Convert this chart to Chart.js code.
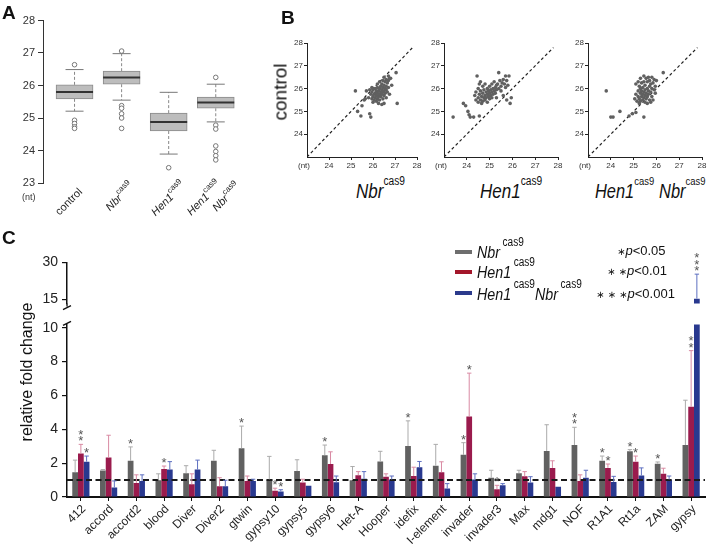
<!DOCTYPE html>
<html>
<head>
<meta charset="utf-8">
<title>Small RNA length and TE expression</title>
<script src="https://cdn.jsdelivr.net/npm/chart.js@4.4.1/dist/chart.umd.min.js"></script>
<style>
  body { margin: 0; background: #fff; }
  #fig { position: relative; width: 709px; height: 549px; overflow: hidden;
         font-family: "Liberation Sans", Arial, sans-serif; color: #111; }
  #fig canvas, #fig .t, #fig .sw { position: absolute; }
  .t { white-space: nowrap; line-height: 1; }
  .letter { font-weight: bold; font-size: 19px; }
  .gt { display: inline-block; transform-origin: 0 50%; }
  .up { font-style: normal; position: relative; }
  .sw { width: 17px; height: 4px; }
  .st { font-family: "DejaVu Sans", sans-serif; font-size: 10px; }
</style>
</head>
<body>
<div id="fig">
  <canvas id="boxA" width="265" height="245" style="left:0;top:0"></canvas>
  <canvas id="sc1" width="137" height="138" style="left:287px;top:33px"></canvas>
  <canvas id="sc2" width="141" height="138" style="left:424px;top:33px"></canvas>
  <canvas id="sc3" width="141" height="138" style="left:568px;top:33px"></canvas>
  <canvas id="upperC" width="709" height="66" style="left:0;top:250px"></canvas>
  <canvas id="lowerC" width="709" height="237" style="left:0;top:312px"></canvas>

  <div class="t letter" style="left:2px;top:3px">A</div>
  <div class="t letter" style="left:281px;top:8px">B</div>
  <div class="t letter" style="left:2px;top:228px">C</div>
  <div class="t" style="left:22px;top:193px;font-size:9px;color:#333">(nt)</div>

  <!-- panel B titles -->
  <div class="t" style="left:280px;top:92px;font-size:19px;transform:translate(-50%,-50%) rotate(-90deg)">control</div>
  <div class="t" style="left:356px;top:181px;font-size:20px"><span class="gt" style="transform:scaleX(.85)"><i>Nbr</i><span class="up" style="font-size:12px;top:-13px">cas9</span></span></div>
  <div class="t" style="left:480px;top:181px;font-size:20px"><span class="gt" style="transform:scaleX(.85)"><i>Hen1</i><span class="up" style="font-size:12px;top:-13px">cas9</span></span></div>
  <div class="t" style="left:595px;top:181px;font-size:20px"><span class="gt" style="transform:scaleX(.82)"><i>Hen1</i><span class="up" style="font-size:11.5px;top:-13px">cas9</span><i style="margin-left:6px">Nbr</i><span class="up" style="font-size:11.5px;top:-13px">cas9</span></span></div>

  <!-- panel C axis title and legend -->
  <div class="t" style="left:27px;top:372px;font-size:16px;transform:translate(-50%,-50%) rotate(-90deg)">relative fold change</div>
  <div class="sw" style="left:455px;top:250px;background:#6e6e6e"></div>
  <div class="sw" style="left:455px;top:270px;background:#a3162a"></div>
  <div class="sw" style="left:455px;top:291px;background:#2b3a8c"></div>
  <div class="t" style="left:477px;top:244px;font-size:17px"><span class="gt" style="transform:scaleX(.84)"><i>Nbr</i><span class="up" style="font-size:12px;top:-12px;margin-left:3px">cas9</span></span></div>
  <div class="t" style="left:477px;top:264px;font-size:17px"><span class="gt" style="transform:scaleX(.84)"><i>Hen1</i><span class="up" style="font-size:12px;top:-12px;margin-left:3px">cas9</span></span></div>
  <div class="t" style="left:477px;top:286px;font-size:17px"><span class="gt" style="transform:scaleX(.84)"><i>Hen1</i><span class="up" style="font-size:12px;top:-12px;margin-left:3px">cas9</span><i>Nbr</i><span class="up" style="font-size:12px;top:-12px;margin-left:3px">cas9</span></span></div>
  <div class="t" style="left:617px;top:244px;font-size:13px"><span class="st">∗</span><i>p</i>&lt;0.05</div>
  <div class="t" style="left:607px;top:264px;font-size:13px"><span class="st">∗ ∗</span><i>p</i>&lt;0.01</div>
  <div class="t" style="left:596px;top:287px;font-size:13px"><span class="st">∗ ∗ ∗</span><i>p</i>&lt;0.001</div>
</div>

<script>
// ---------- panel A: length distribution (nt) per genotype
const genotypes = ["control", "Nbr", "Hen1", "Hen1 Nbr"];
const boxLow = [25.21, 25.55, 23.89, 24.88];
const boxQ1 = [25.59, 26.04, 24.60, 25.30];
const boxMedian = [25.80, 26.25, 24.88, 25.48];
const boxQ3 = [26.02, 26.44, 25.15, 25.64];
const boxHigh = [26.49, 26.98, 25.79, 26.04];
const outControl = [26.64, 24.93, 24.83, 24.73, 24.68];
const outNbr = [27.06, 25.38, 25.30, 25.13, 25.0, 24.68];
const outHen1 = [23.47];
const outDouble = [26.25, 24.78, 24.66, 24.14, 23.97, 23.84, 23.71];
const ticksA = [23, 24, 25, 26, 27, 28];

// ---------- panel B: per-TE values, mutant (x) vs control (y)
const ticksB = [24, 25, 26, 27, 28];
const diagonal = [23, 27.8];
const nbrVsControl = [
  [25.2,25.9],[25.3,25.0],[25.45,24.8],[25.5,25.25],[25.6,25.5],[25.65,25.55],[25.7,25.9],[25.8,25.6],
  [25.85,25.95],[25.85,24.9],[25.9,24.75],[25.9,25.75],[25.95,25.85],[25.95,25.55],[26.0,25.4],[26.0,25.65],
  [26.0,25.95],[26.05,25.75],[26.05,25.5],[26.1,25.8],[26.1,25.6],[26.1,26.0],[26.15,25.7],[26.15,25.45],
  [26.15,25.9],[26.2,25.55],[26.2,25.8],[26.2,26.05],[26.25,25.65],[26.25,25.9],[26.25,25.35],[26.3,25.75],
  [26.3,26.0],[26.3,25.5],[26.35,25.85],[26.35,26.1],[26.35,25.65],[26.4,25.95],[26.4,25.75],[26.4,26.2],
  [26.4,25.3],[26.45,25.85],[26.45,26.05],[26.45,25.55],[26.5,26.5],[26.5,25.9],[26.5,26.15],[26.5,25.7],
  [26.5,25.35],[26.55,26.0],[26.55,26.3],[26.55,25.8],[26.6,26.1],[26.6,25.95],[26.6,25.6],[26.65,26.25],
  [26.65,25.85],[26.7,26.35],[26.7,26.05],[26.75,26.45],[26.75,25.75],[26.8,26.45],[26.85,26.15],[27.05,26.7],
  [27.1,25.35],[26.3,26.3],[26.2,26.2],[26.0,26.0],[25.95,26.05],[26.45,26.35],[26.6,26.4],[26.7,26.55]
];
const hen1VsControl = [
  [23.4,24.75],[23.85,25.35],[23.95,25.25],[24.05,25.0],[24.1,24.85],[24.15,24.75],[24.3,24.75],[24.55,24.8],
  [24.45,26.55],[25.4,26.7],[25.7,26.55],[25.85,26.55],[25.95,25.6],[25.9,25.35],
  [24.35,25.7],[24.4,25.5],[24.4,25.85],[24.5,25.6],[24.5,25.4],[24.5,26.0],[24.55,25.75],[24.6,25.5],
  [24.6,25.9],[24.65,25.35],[24.65,25.65],[24.7,25.8],[24.7,26.1],[24.7,25.45],[24.75,25.6],[24.75,25.95],
  [24.8,25.7],[24.8,25.5],[24.8,26.2],[24.85,25.85],[24.85,25.6],[24.9,25.75],[24.9,26.0],[24.9,25.4],
  [24.95,25.9],[24.95,25.65],[25.0,25.8],[25.0,26.1],[25.0,25.55],[25.05,25.95],[25.05,25.7],[25.1,25.85],
  [25.1,26.2],[25.1,25.6],[25.15,26.0],[25.15,25.75],[25.2,25.9],[25.2,26.3],[25.25,26.05],[25.25,25.8],
  [25.3,26.15],[25.3,25.95],[25.35,26.2],[25.4,26.0],[25.45,26.35],[25.5,26.1],[25.5,25.9],[25.55,26.25],
  [25.6,26.4],[25.65,26.2],[25.7,26.05],[25.75,26.35],[25.8,26.15],[24.6,26.3],[24.55,26.2],[25.3,25.6],
  [25.6,25.7],[25.75,25.5]
];
const doubleVsControl = [
  [23.8,25.9],[24.0,24.75],[24.1,24.75],[24.4,25.0],[24.8,24.8],[24.95,24.9],[25.1,24.95],[25.45,24.75],[26.3,26.7],
  [25.05,25.55],[25.1,25.75],[25.1,26.2],[25.15,25.45],[25.2,25.65],[25.2,25.9],[25.25,25.35],[25.25,25.55],
  [25.25,26.1],[25.3,25.8],[25.3,25.45],[25.3,26.0],[25.35,25.65],[25.35,25.9],[25.35,26.25],[25.4,25.5],
  [25.4,25.75],[25.4,26.05],[25.45,25.85],[25.45,25.6],[25.45,26.3],[25.5,25.7],[25.5,25.95],[25.5,25.4],
  [25.5,26.15],[25.55,25.8],[25.55,26.45],[25.55,25.55],[25.6,26.0],[25.6,25.65],[25.6,26.3],[25.65,25.9],
  [25.65,26.5],[25.65,25.75],[25.7,26.1],[25.7,25.5],[25.7,26.35],[25.75,25.85],[25.75,26.2],[25.8,26.0],
  [25.8,26.5],[25.8,25.65],[25.85,26.25],[25.9,25.95],[25.95,26.1],[25.9,26.4],[25.6,25.35],[25.75,25.4],
  [25.2,26.3],[25.3,26.45],[25.45,26.55],[25.95,25.8],[26.0,26.35],[25.85,25.5]
];

// ---------- panel C: relative fold change per transposon
const teNames = ["412", "accord", "accord2", "blood", "Diver", "Diver2", "gtwin", "gypsy10", "gypsy5",
  "gypsy6", "Het-A", "Hooper", "idefix", "I-element", "invader", "invader3", "Max", "mdg1", "NOF",
  "R1A1", "Rt1a", "ZAM", "gypsy"];
const nbrMean = [1.47,1.57,2.14,0.99,1.41,2.14,2.88,1.04,1.53,2.47,0.99,2.10,3.01,1.85,2.49,1.14,1.41,2.72,3.07,2.14,2.70,1.97,3.07];
const nbrErr = [0.71,0.05,0.82,0.38,0.44,0.62,1.31,1.36,0.67,0.60,0.81,0.60,1.49,1.26,0.72,0.44,0.17,1.55,1.05,0.28,0.10,0.10,2.65];
const hen1Mean = [2.57,2.34,0.83,1.66,0.75,0.64,0.95,0.37,0.85,1.95,1.29,1.20,1.24,1.47,4.75,0.46,1.22,1.72,0.95,1.72,2.09,1.37,5.33];
const hen1Err = [0.54,1.31,0.48,0.17,0.62,0.50,0.29,0.15,0.20,0.72,0.21,0.17,0.52,0.61,2.57,0.23,0.28,0.42,0.36,0.23,0.33,0.33,3.32];
const dblMean = [2.09,0.56,0.95,1.62,1.62,0.64,0.95,0.33,0.66,0.87,1.08,1.03,1.76,0.50,1.03,0.69,0.85,0.60,1.14,0.89,1.27,1.03,15.2];
const dblErr = [0.33,0.39,0.36,0.47,0.56,0.35,0.10,0.10,0,0.37,0.42,0.21,0.34,0.29,0.34,0.10,0.35,0,0.44,0.33,0.45,0.21,10.0];
const starsNbr = [0,0,1,0,0,0,1,0,0,1,0,0,1,0,1,0,0,0,2,1,1,1,0];
const starsHen1 = [2,0,0,1,0,0,0,1,0,0,0,0,0,0,1,1,0,0,0,1,1,0,2];
const starsDbl = [1,0,0,0,0,0,0,1,0,0,0,0,0,0,0,0,0,0,0,0,0,0,3];
const ticksUpper = [15, 30];
const ticksLower = [0, 2, 4, 6, 8, 10];
const refLevel = 1;

const FONT = '"Liberation Sans", Arial, sans-serif';
Chart.defaults.font.family = FONT;
Chart.defaults.color = "#222";

const base = {
  animation: false,
  responsive: false,
  devicePixelRatio: 1,
  events: [],
};
function fixedTicks(list) {
  return function (s) { s.ticks = list.map(v => ({ value: v })); };
}

// rotated genotype labels with superscripts (panel A)
const runsA = [
  { at: 1, dx: -5.5, dy: 19, parts: [{ t: "control" }] },
  { at: 2, dx: -1.5, dy: 14, parts: [{ t: "Nbr", it: true }, { t: "cas9", sup: true }] },
  { at: 3, dx: 0, dy: 16, parts: [{ t: "Hen1", it: true }, { t: "cas9", sup: true }] },
  { at: 4, dx: -11.5, dy: 15.5, parts: [{ t: "Hen1", it: true }, { t: "cas9", sup: true }] },
  { at: 4, dx: 11, dy: 14.5, parts: [{ t: "Nbr", it: true }, { t: "cas9", sup: true }] },
];
function partFont(p) {
  return (p.it ? "italic " : "") + (p.sup ? "8px " : "11px ") + FONT;
}
const genotypeLabels = {
  id: "genotypeLabels",
  afterDraw(chart) {
    const { ctx, chartArea, scales: { x } } = chart;
    runsA.forEach(run => {
      ctx.save();
      ctx.translate(x.getPixelForValue(run.at) + run.dx, chartArea.bottom + run.dy);
      ctx.rotate(-Math.PI / 4);
      ctx.textBaseline = "middle";
      ctx.fillStyle = "#222";
      let w = 0;
      run.parts.forEach(p => { ctx.font = partFont(p); w += ctx.measureText(p.t).width; });
      let px = -w / 2;
      run.parts.forEach(p => {
        ctx.font = partFont(p);
        ctx.fillText(p.t, px, p.sup ? -5 : 0);
        px += ctx.measureText(p.t).width;
      });
      ctx.restore();
    });
  }
};

// ---------- panel A chart
const whiskerPts = [];
const capPts = [];
genotypes.forEach((g, i) => {
  whiskerPts.push({ x: i + 1, y: boxQ3[i] }, { x: i + 1, y: boxHigh[i] }, { x: i + 1, y: null },
                  { x: i + 1, y: boxQ1[i] }, { x: i + 1, y: boxLow[i] }, { x: i + 1, y: null });
  capPts.push({ x: i + 1, y: boxHigh[i] }, { x: i + 1, y: boxLow[i] });
});
const outlierPts = [outControl, outNbr, outHen1, outDouble]
  .flatMap((arr, i) => arr.map(v => ({ x: i + 1, y: v })));

new Chart(document.getElementById("boxA"), {
  type: "scatter",
  data: {
    datasets: [
      { type: "scatter", data: genotypes.map((g, i) => ({ x: i + 1, y: boxMedian[i] })),
        pointStyle: "line", pointRadius: 18.5, pointBorderColor: "#333", pointBorderWidth: 2, order: 0 },
      { type: "bar", data: genotypes.map((g, i) => ({ x: i + 1, y: [boxQ1[i], boxQ3[i]] })),
        backgroundColor: "#bdbdbd", borderColor: "#8a8a8a", borderWidth: 1, borderSkipped: false,
        barThickness: 37, order: 1 },
      { type: "scatter", data: capPts, pointStyle: "line", pointRadius: 9,
        pointBorderColor: "#777", pointBorderWidth: 1, order: 2 },
      { type: "line", data: whiskerPts, borderColor: "#888", borderWidth: 1, borderDash: [3, 2],
        pointRadius: 0, spanGaps: false, order: 3 },
      { type: "scatter", data: outlierPts, pointRadius: 2.3, pointBackgroundColor: "#fff",
        pointBorderColor: "#777", pointBorderWidth: 1, order: 0 },
    ]
  },
  options: {
    ...base,
    layout: { padding: { top: 15, right: 21, bottom: 62, left: 0 } },
    plugins: { legend: { display: false }, tooltip: { enabled: false } },
    scales: {
      x: { type: "linear", min: 0.33, max: 4.6, offset: false, display: false },
      y: {
        min: 23, max: 28,
        afterBuildTicks: fixedTicks(ticksA),
        afterFit: s => { s.width = 43; },
        ticks: { font: { size: 11 }, color: "#333", padding: 3 },
        grid: { drawOnChartArea: false, tickLength: 5, color: "#333" },
        border: { color: "#333", width: 1 }
      }
    }
  },
  plugins: [genotypeLabels]
});

// ---------- panel B charts
const ntLabel = {
  id: "ntLabel",
  afterDraw(chart) {
    const { ctx, chartArea } = chart;
    ctx.save();
    ctx.font = "8px " + FONT;
    ctx.fillStyle = "#333";
    ctx.textAlign = "right";
    ctx.textBaseline = "middle";
    ctx.fillText("(nt)", chartArea.left + 3, chartArea.bottom + 9);
    ctx.restore();
  }
};
function scatterPanel(id, pts) {
  new Chart(document.getElementById(id), {
    type: "scatter",
    data: {
      datasets: [
        { data: pts.map(p => ({ x: p[0], y: p[1] })), pointRadius: 1.8,
          pointBackgroundColor: "#606060", pointBorderWidth: 0 },
        { type: "line", data: diagonal.map(v => ({ x: v, y: v })), borderColor: "#222",
          borderWidth: 1.2, borderDash: [3, 2.5], pointRadius: 0 },
      ]
    },
    options: {
      ...base,
      layout: { padding: { top: 10, right: 7, bottom: 0, left: 0 } },
      plugins: { legend: { display: false }, tooltip: { enabled: false } },
      scales: {
        x: {
          min: 23, max: 28, offset: false,
          afterBuildTicks: fixedTicks(ticksB),
          afterFit: s => { s.height = 14; },
          ticks: { font: { size: 8 }, color: "#333", padding: 1, maxRotation: 0 },
          grid: { drawOnChartArea: false, tickLength: 3, color: "#222" },
          border: { color: "#222", width: 1 }
        },
        y: {
          min: 23, max: 28,
          afterBuildTicks: fixedTicks(ticksB),
          afterFit: s => { s.width = 20; },
          ticks: { font: { size: 8 }, color: "#333", padding: 1 },
          grid: { drawOnChartArea: false, tickLength: 3, color: "#222" },
          border: { color: "#222", width: 1 }
        }
      }
    },
    plugins: [ntLabel]
  });
}
scatterPanel("sc1", nbrVsControl);
scatterPanel("sc2", hen1VsControl);
scatterPanel("sc3", doubleVsControl);

// ---------- panel C charts (broken y axis = two stacked charts)
function barSets() {
  return [
    { data: nbrMean, err: nbrErr, stars: starsNbr, backgroundColor: "#616161", errColor: "#ababab" },
    { data: hen1Mean, err: hen1Err, stars: starsHen1, backgroundColor: "#9a1b4d", errColor: "#d98aa3" },
    { data: dblMean, err: dblErr, stars: starsDbl, backgroundColor: "#29398f", errColor: "#5d6fc0" },
  ];
}

const errBars = {
  id: "errBars",
  afterDatasetsDraw(chart, args, opts) {
    const { ctx, chartArea, scales: { y } } = chart;
    ctx.save();
    ctx.beginPath();
    if (opts.clipTop) ctx.rect(0, chartArea.top, chart.width, chart.height);
    else ctx.rect(0, 0, chart.width, chartArea.bottom);
    ctx.clip();
    chart.data.datasets.forEach((ds, i) => {
      chart.getDatasetMeta(i).data.forEach((bar, j) => {
        const v = ds.data[j];
        const top = y.getPixelForValue(v + ds.err[j]);
        // only marks whose top lies inside this segment of the broken axis
        if (opts.clipTop ? top < chartArea.top : top > chartArea.bottom) return;
        if (ds.err[j] > 0) {
          ctx.strokeStyle = ds.errColor;
          ctx.lineWidth = 1;
          ctx.beginPath();
          ctx.moveTo(bar.x, y.getPixelForValue(v));
          ctx.lineTo(bar.x, top);
          ctx.moveTo(bar.x - 2.2, top);
          ctx.lineTo(bar.x + 2.2, top);
          ctx.stroke();
        }
        ctx.fillStyle = "#555";
        ctx.font = "13px " + FONT;
        ctx.textAlign = "center";
        ctx.textBaseline = "alphabetic";
        for (let k = 0; k < ds.stars[j]; k++) {
          ctx.fillText("*", bar.x, top - 6.5 - k * 6.5 + 7.5);
        }
      });
    });
    ctx.restore();
  }
};

const refLine = {
  id: "refLine",
  afterDatasetsDraw(chart) {
    const { ctx, chartArea, scales: { y } } = chart;
    const py = y.getPixelForValue(refLevel);
    ctx.save();
    ctx.strokeStyle = "#1a1a1a";
    ctx.lineWidth = 2;
    ctx.setLineDash([6, 3.5]);
    ctx.beginPath();
    ctx.moveTo(chartArea.left, py);
    ctx.lineTo(chartArea.right, py);
    ctx.stroke();
    ctx.restore();
  }
};

const axisBreak = {
  id: "axisBreak",
  afterDraw(chart, args, opts) {
    const { ctx, chartArea } = chart;
    const x = chartArea.left;
    ctx.save();
    ctx.strokeStyle = "#111";
    ctx.lineWidth = 1.3;
    ctx.beginPath();
    if (opts.at === "bottom") {
      const yb = chartArea.bottom;
      ctx.moveTo(x, yb);
      ctx.lineTo(x, yb + 3);
      ctx.moveTo(x - 4, yb + 6);
      ctx.lineTo(x + 4, yb + 2);
    } else {
      const yt = chartArea.top;
      ctx.moveTo(x - 4, yt + 1);
      ctx.lineTo(x + 4, yt - 3);
    }
    ctx.stroke();
    ctx.restore();
  }
};

function yAxisC(min, max, list) {
  return {
    min: min, max: max,
    afterBuildTicks: fixedTicks(list),
    afterFit: s => { s.width = 67; },
    ticks: { font: { size: 14 }, color: "#222", padding: 4 },
    grid: { drawOnChartArea: false, tickLength: 5, color: "#111", lineWidth: 1.2 },
    border: { color: "#111", width: 1.5 }
  };
}

new Chart(document.getElementById("upperC"), {
  type: "bar",
  data: { labels: teNames, datasets: barSets() },
  options: {
    ...base,
    datasets: { bar: { categoryPercentage: 0.62, barPercentage: 1, clip: 0 } },
    layout: { padding: { top: 12, right: 4, bottom: 8, left: 0 } },
    plugins: { legend: { display: false }, tooltip: { enabled: false },
               errBars: { clipTop: false }, axisBreak: { at: "bottom" } },
    scales: {
      x: { display: false },
      y: yAxisC(13.17, 30, ticksUpper)
    }
  },
  plugins: [errBars, axisBreak]
});

new Chart(document.getElementById("lowerC"), {
  type: "bar",
  data: { labels: teNames, datasets: barSets() },
  options: {
    ...base,
    datasets: { bar: { categoryPercentage: 0.62, barPercentage: 1, clip: 0 } },
    layout: { padding: { top: 9, right: 4, bottom: 0, left: 0 } },
    plugins: { legend: { display: false }, tooltip: { enabled: false },
               errBars: { clipTop: true }, axisBreak: { at: "top" } },
    scales: {
      x: {
        afterFit: s => { s.height = 52; },
        ticks: { maxRotation: 45, minRotation: 45, autoSkip: false, font: { size: 12 }, color: "#222",
                 padding: 1, labelOffset: 3 },
        grid: { drawOnChartArea: false, offset: false, tickLength: 4, color: "#111", lineWidth: 1 },
        border: { color: "#111", width: 2 }
      },
      y: yAxisC(0, 10.2, ticksLower)
    }
  },
  plugins: [refLine, errBars, axisBreak]
});
</script>
</body>
</html>
